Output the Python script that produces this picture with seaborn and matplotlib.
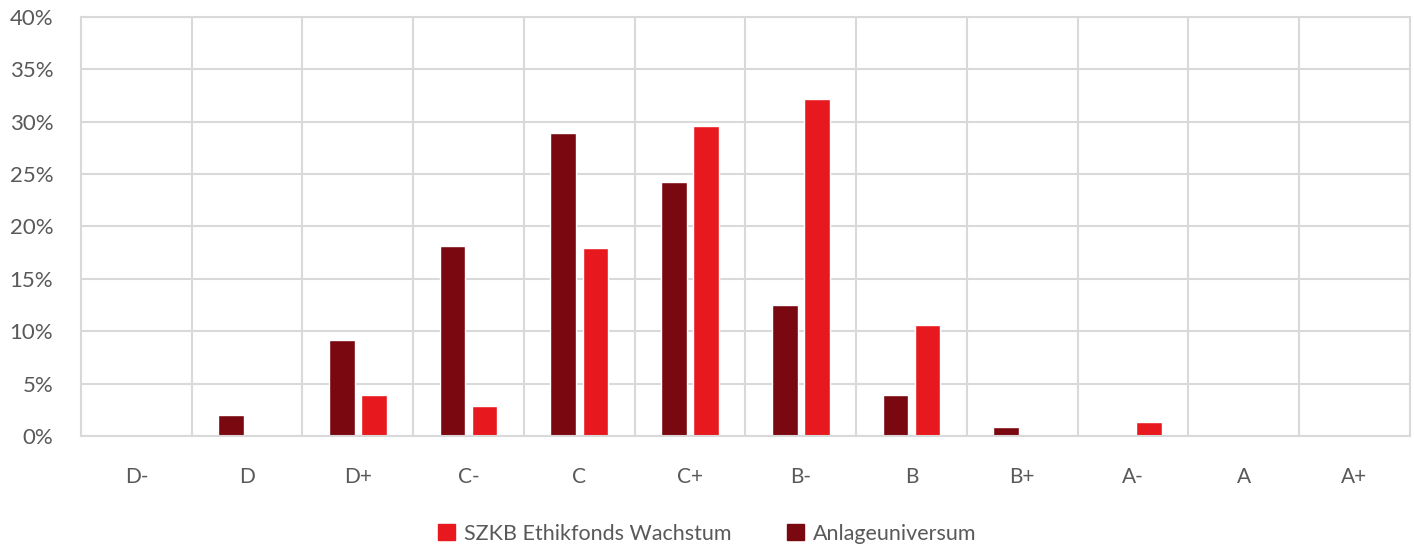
import pandas as pd
import matplotlib.pyplot as plt
import seaborn as sns
from matplotlib.patches import Patch
from matplotlib.ticker import PercentFormatter

# Rating categories and shares (%)
ratings = ['D-', 'D', 'D+', 'C-', 'C', 'C+', 'B-', 'B', 'B+', 'A-', 'A', 'A+']
fonds = [0.0, 0.0, 3.9, 2.9, 17.9, 29.6, 32.2, 10.6, 0.0, 1.3, 0.0, 0.0]
universum = [0.1, 2.0, 9.2, 18.1, 28.9, 24.2, 12.5, 3.9, 0.85, 0.15, 0.0, 0.0]

name_fonds = 'SZKB Ethikfonds Wachstum'
name_univ = 'Anlageuniversum'
red = '#E8191E'
dark = '#7A0811'
grey = '#595959'

df = pd.DataFrame({
    'rating': ratings * 2,
    'value': universum + fonds,
    'series': [name_univ] * len(ratings) + [name_fonds] * len(ratings),
})

sns.set_style('white')
plt.rcParams['font.family'] = ['Lato', 'DejaVu Sans']

fig = plt.figure(figsize=(14.14, 5.44), dpi=100)
ax = fig.add_axes([0.0573, 0.1985, 0.9397, 0.7705])

sns.barplot(data=df, x='rating', y='value', hue='series',
            hue_order=[name_univ, name_fonds], palette=[dark, red],
            saturation=1, width=0.58, gap=0.2, ax=ax, legend=False)

ax.set_ylim(0, 40)
ax.set_xlim(-0.5, len(ratings) - 0.5)
ax.set_yticks(range(0, 41, 5))
ax.yaxis.set_major_formatter(PercentFormatter(decimals=0))
ax.set_xticks([i + 0.5 for i in range(len(ratings) - 1)], minor=True)
ax.grid(axis='y', color='#d9d9d9', linewidth=1.5)
ax.grid(axis='x', which='minor', color='#d9d9d9', linewidth=1.5)
ax.set_axisbelow(True)
for s in ax.spines.values():
    s.set_color('#d9d9d9')
    s.set_linewidth(1.5)
ax.tick_params(axis='both', which='both', length=0, colors=grey, labelsize=15)
ax.tick_params(axis='x', pad=22)
ax.tick_params(axis='y', pad=20, labelsize=16)
ax.set_xlabel('')
ax.set_ylabel('')

handles = [Patch(color=red, label=name_fonds), Patch(color=dark, label=name_univ)]
fig.legend(handles=handles, loc='lower center', bbox_to_anchor=(0.5, -0.035), ncol=2,
           frameon=False, fontsize=15.5, labelcolor=grey, handlelength=0.8,
           handleheight=0.8, handletextpad=0.4, columnspacing=2.6)

fig.savefig('out.png', dpi=100)
